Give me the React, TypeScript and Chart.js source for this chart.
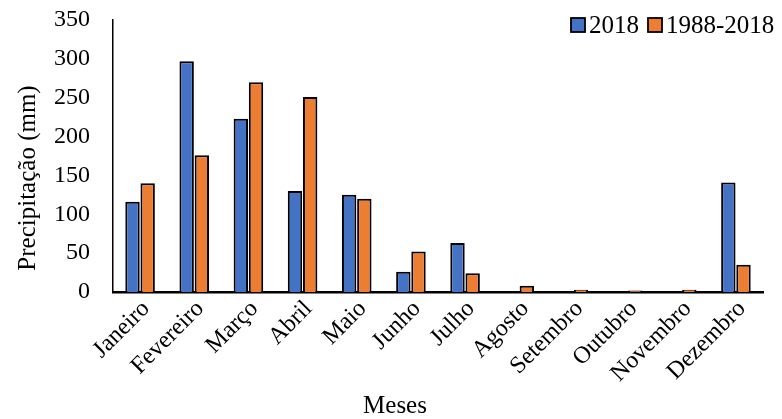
import React, { useEffect, useRef } from "react";
import { Chart, registerables } from "chart.js";

Chart.register(...registerables);

const categories = [
  "Janeiro", "Fevereiro", "Março", "Abril", "Maio", "Junho",
  "Julho", "Agosto", "Setembro", "Outubro", "Novembro", "Dezembro",
];
const series2018 = [116, 297, 223, 130, 125, 26, 63, 0, 0, 0, 0, 141];
const series1988_2018 = [140, 176, 270, 251, 120, 52, 24, 8, 3, 2, 3, 35];
const seriesNames = ["2018", "1988-2018"];
const yMin = 0;
const yMax = 350;
const yStep = 50;
const xTitle = "Meses";
const yTitle = "Precipitação (mm)";

const BLUE = "#4472C4";
const ORANGE = "#ED7D31";
const FONT = '"Liberation Serif", "Times New Roman", serif';

const overlayPlugin = {
  id: "overlay",
  afterDraw(chart: any) {
    const ctx = chart.ctx as CanvasRenderingContext2D;
    ctx.save();
    ctx.fillStyle = "#000";
    // axis titles
    ctx.font = `25px ${FONT}`;
    ctx.textAlign = "center";
    ctx.textBaseline = "alphabetic";
    ctx.fillText(xTitle, 395, 413);
    ctx.save();
    ctx.translate(35, 178);
    ctx.rotate(-Math.PI / 2);
    ctx.fillText(yTitle, 0, 0);
    ctx.restore();
    // legend
    ctx.font = `25px ${FONT}`;
    ctx.textAlign = "left";
    const items = chart.data.datasets.map((d: any) => ({ label: d.label, color: d.backgroundColor }));
    let x = 571;
    const y = 18;
    items.forEach((it: any) => {
      ctx.fillStyle = it.color;
      ctx.fillRect(x, y, 14, 14);
      ctx.strokeStyle = "#000";
      ctx.lineWidth = 1.8;
      ctx.strokeRect(x, y, 14, 14);
      ctx.fillStyle = "#000";
      ctx.fillText(it.label, x + 18, 33);
      x += 18 + ctx.measureText(it.label).width + 9;
    });
    ctx.restore();
  },
};

export default function App() {
  const ref = useRef<HTMLCanvasElement>(null);
  useEffect(() => {
    if (!ref.current) return;
    const chart = new Chart(ref.current, {
      type: "bar",
      data: {
        labels: categories,
        datasets: [
          {
            label: seriesNames[0],
            data: series2018,
            backgroundColor: BLUE,
            borderColor: "#000",
            borderWidth: 2,
            categoryPercentage: 0.56,
            barPercentage: 0.95,
          },
          {
            label: seriesNames[1],
            data: series1988_2018,
            backgroundColor: ORANGE,
            borderColor: "#000",
            borderWidth: 2,
            categoryPercentage: 0.56,
            barPercentage: 0.95,
          },
        ],
      },
      options: {
        responsive: false,
        animation: false,
        devicePixelRatio: 1,
        layout: { padding: { left: 8, right: 19, top: 20, bottom: 0 } },
        plugins: {
          legend: { display: false },
          tooltip: { enabled: false },
        },
        scales: {
          x: {
            grid: { display: false, drawTicks: false },
            border: { display: true, color: "#000", width: 2.5 },
            ticks: {
              color: "#000",
              font: { family: FONT, size: 24 },
              minRotation: 45,
              maxRotation: 45,
              padding: 3,
              labelOffset: 6,
              autoSkip: false,
            },
            afterFit(scale: any) {
              scale.height = 127;
              scale.paddingTop = 0;
            },
          },
          y: {
            min: yMin,
            max: yMax,
            grid: { display: false, drawTicks: false },
            border: { display: true, color: "#000", width: 1.5 },
            ticks: {
              stepSize: yStep,
              color: "#000",
              font: { family: FONT, size: 24 },
              padding: 23,
            },
            afterFit(scale: any) {
              scale.width = 105;
              scale.paddingTop = 0;
              scale.paddingBottom = 0;
            },
          },
        },
      },
      plugins: [overlayPlugin],
    });
    return () => chart.destroy();
  }, []);
  return (
    <div style={{ position: "fixed", left: 0, top: 0, width: 782, height: 419, background: "#fff" }}>
      <canvas ref={ref} width={782} height={419} />
    </div>
  );
}
